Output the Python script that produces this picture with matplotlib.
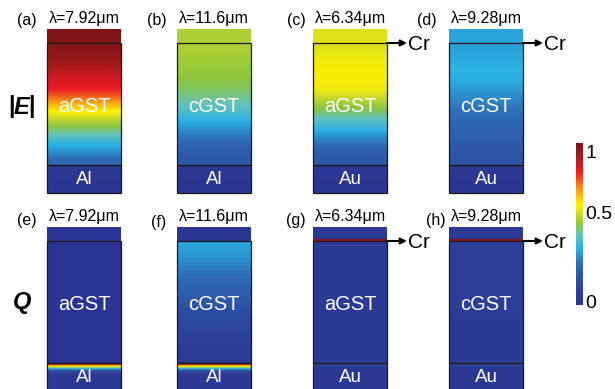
import numpy as np
import matplotlib
matplotlib.use('Agg')
import matplotlib.pyplot as plt
from matplotlib.colors import LinearSegmentedColormap
from matplotlib.patches import Rectangle
from matplotlib.cm import ScalarMappable

plt.rcParams['font.family'] = ['Liberation Sans', 'DejaVu Sans']

# --- text of the figure
tags_top = ['(a)', '(b)', '(c)', '(d)']
tags_bot = ['(e)', '(f)', '(g)', '(h)']
wavelengths = ['λ=7.92μm', 'λ=11.6μm', 'λ=6.34μm', 'λ=9.28μm']
gst_names = ['aGST', 'cGST', 'aGST', 'cGST']
metal_names = ['Al', 'Al', 'Au', 'Au']

# --- normalized |E| (top row), each layer read top -> bottom
E_cap = [0.99, 0.53, 0.58, 0.33]
E_cr = [None, None, 0.58, 0.33]
E_gst = [
    [0.97, 0.94, 0.90, 0.85, 0.82, 0.74, 0.64, 0.55, 0.47, 0.39, 0.32, 0.24],
    [0.53, 0.52, 0.51, 0.50, 0.48, 0.45, 0.41, 0.36, 0.30, 0.25, 0.21, 0.18],
    [0.58, 0.60, 0.61, 0.61, 0.60, 0.55, 0.49, 0.42, 0.36, 0.28, 0.22, 0.18],
    [0.33, 0.34, 0.36, 0.35, 0.32, 0.29, 0.26, 0.24, 0.22, 0.20, 0.18, 0.16],
]
E_metal = [
    [0.04, 0.03, 0.03],
    [0.04, 0.03, 0.03],
    [0.04, 0.03, 0.03],
    [0.04, 0.03, 0.03],
]

# --- normalized Q (bottom row)
Q_cap = [0.02, 0.03, 0.04, 0.04]
Q_cr = [None, None, 0.95, 0.95]
Q_gst = [
    [0.02, 0.02],
    [0.33, 0.31, 0.28, 0.25, 0.22, 0.19, 0.16, 0.13, 0.10, 0.08, 0.06, 0.05],
    [0.05, 0.05],
    [0.07, 0.07, 0.07, 0.07, 0.07, 0.07, 0.07, 0.05, 0.05, 0.05, 0.05, 0.05],
]
Q_metal = [
    [0.88, 0.62, 0.38, 0.18, 0.08, 0.05, 0.04, 0.04, 0.04, 0.04, 0.04, 0.04, 0.04],
    [0.88, 0.62, 0.38, 0.18, 0.08, 0.05, 0.04, 0.04, 0.04, 0.04, 0.04, 0.04, 0.04],
    [0.12, 0.08, 0.05, 0.04, 0.04, 0.04, 0.04, 0.04, 0.04, 0.04, 0.04, 0.04, 0.04],
    [0.12, 0.08, 0.05, 0.04, 0.04, 0.04, 0.04, 0.04, 0.04, 0.04, 0.04, 0.04, 0.04],
]

cmap = LinearSegmentedColormap.from_list('field', [
    (0.00, '#2b3190'), (0.15, '#2d4fa3'), (0.25, '#2f6db5'),
    (0.35, '#29b0e4'), (0.43, '#63c3b8'), (0.50, '#8dc63f'),
    (0.57, '#d7df23'), (0.62, '#fff200'), (0.72, '#f7941d'),
    (0.82, '#ed1c24'), (0.92, '#a31a1e'), (1.00, '#7a1315')])

W, H = 615, 389
fig = plt.figure(figsize=(W / 100, H / 100), dpi=100)


def fx(x):
    return x / W


def fy(y):
    return 1 - y / H


# layer depths inside a panel (pixels from the top of the cap)
CAP, GST_END, METAL_END = 14, 136, 164
panel_left = [47, 177, 313, 449]
panel_w = 74


def draw_panel(left, top, bottom, cap, cr, gst, metal, gname, mname):
    ax = fig.add_axes([fx(left), fy(bottom), panel_w / W, (bottom - top) / H])
    kw = dict(cmap=cmap, vmin=0, vmax=1, aspect='auto', interpolation='bilinear')
    ax.imshow(np.array([[cap]]), extent=(0, 1, CAP, 0), **kw)
    if cr is not None:
        ax.imshow(np.array([[cr]]), extent=(0, 1, CAP, CAP - 2), **kw)
    ax.imshow(np.array(gst)[:, None], extent=(0, 1, GST_END, CAP), **kw)
    ax.imshow(np.array(metal)[:, None], extent=(0, 1, METAL_END, GST_END), **kw)
    for y0, y1 in [(CAP, GST_END), (GST_END, METAL_END)]:
        ax.add_patch(Rectangle((0, y0), 1, y1 - y0, fill=False, ec='#1a1a1a',
                               lw=0.9, clip_on=False))
    ax.set_xlim(0, 1)
    ax.set_ylim(bottom - top, 0)
    ax.axis('off')
    ax.text(0.5, 77, gname, color='white', fontsize=14.5, ha='center', va='center')
    ax.text(0.5, 151, mname, color='white', fontsize=13.5, ha='center', va='center')
    if cr is not None:
        ax.annotate('', xy=(1.27, CAP), xytext=(1.0, CAP),
                    arrowprops=dict(arrowstyle='-|>', color='k', lw=1.5,
                                    mutation_scale=9, shrinkA=0, shrinkB=0),
                    annotation_clip=False)
        ax.text(1.29, CAP + 1, 'Cr', fontsize=15, ha='left', va='center')


for i in range(4):
    draw_panel(panel_left[i], 29, 193, E_cap[i], E_cr[i], E_gst[i], E_metal[i],
               gst_names[i], metal_names[i])
    draw_panel(panel_left[i], 227, 389, Q_cap[i], Q_cr[i], Q_gst[i], Q_metal[i],
               gst_names[i], metal_names[i])

# panel tags and wavelengths
tag_top_xy = [(27, 20), (157, 21), (296, 20), (427, 21)]
tag_bot_xy = [(27, 220), (159, 222), (296, 220), (436, 221)]
for i in range(4):
    cx = panel_left[i] + panel_w / 2
    fig.text(fx(cx), fy(19), wavelengths[i], fontsize=11.5, ha='center', va='center')
    fig.text(fx(cx), fy(217), wavelengths[i], fontsize=11.5, ha='center', va='center')
    fig.text(fx(tag_top_xy[i][0]), fy(tag_top_xy[i][1]), tags_top[i],
             fontsize=11.5, ha='center', va='center')
    fig.text(fx(tag_bot_xy[i][0]), fy(tag_bot_xy[i][1]), tags_bot[i],
             fontsize=11.5, ha='center', va='center')

# row labels
fig.text(fx(11), fy(107), '|', fontsize=17, fontweight='bold', ha='center', va='center')
fig.text(fx(21), fy(107), 'E', fontsize=17, fontweight='bold', style='italic',
         ha='center', va='center')
fig.text(fx(31), fy(107), '|', fontsize=17, fontweight='bold', ha='center', va='center')
fig.text(fx(22), fy(303), 'Q', fontsize=17, fontweight='bold', style='italic',
         ha='center', va='center')

# colorbar
cax = fig.add_axes([fx(576), fy(305), 7 / W, 162 / H])
cb = fig.colorbar(ScalarMappable(cmap=cmap), cax=cax)
cb.outline.set_visible(False)
cb.set_ticks([0.02, 0.57, 0.95])
cb.set_ticklabels(['0', '0.5', '1'])
cax.tick_params(length=0, labelsize=14, pad=1.5)

fig.savefig('out.png', dpi=100)
